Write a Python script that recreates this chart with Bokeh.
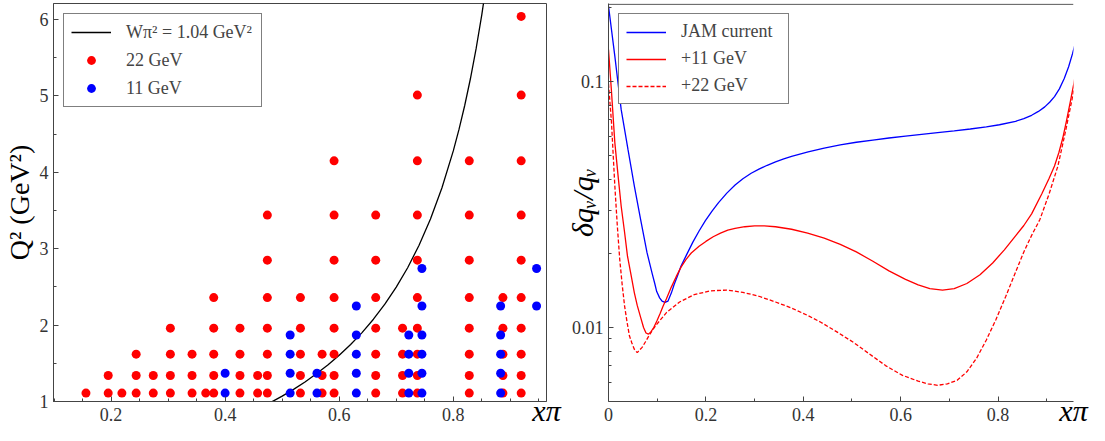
from bokeh.plotting import figure
from bokeh.models import (Range1d, FixedTicker, Legend, LegendItem, Span,
                          CustomJSTickFormatter)
from bokeh.layouts import row
from bokeh.embed import file_html
from bokeh.resources import INLINE

# ---------------- left panel data: kinematic coverage ----------------
red_x = ([0.156] + [0.195] * 2 + [0.219] + [0.244] * 3 + [0.274] * 2 + [0.304] * 4 +
         [0.342] * 3 + [0.366] + [0.380] * 5 + [0.426] * 4 + [0.457] * 2 + [0.474] * 7 +
         [0.532] * 5 + [0.570] * 3 + [0.591] * 8 + [0.664] * 7 + [0.711] * 4 +
         [0.737] * 9 + [0.828] * 8 + [0.887] * 5 + [0.919] * 10)
red_q2 = ([1.11] +
          [1.11, 1.34] +
          [1.11] +
          [1.11, 1.34, 1.62] +
          [1.11, 1.34] +
          [1.11, 1.34, 1.62, 1.96] +
          [1.11, 1.34, 1.62] +
          [1.11] +
          [1.11, 1.34, 1.62, 1.96, 2.36] +
          [1.11, 1.34, 1.62, 1.96] +
          [1.11, 1.34] +
          [1.11, 1.34, 1.62, 1.96, 2.36, 2.85, 3.44] +
          [1.11, 1.34, 1.62, 1.96, 2.36] +
          [1.11, 1.34, 1.62] +
          [1.11, 1.34, 1.62, 1.96, 2.36, 2.85, 3.44, 4.15] +
          [1.11, 1.34, 1.62, 1.96, 2.36, 2.85, 3.44] +
          [1.11, 1.34, 1.62, 1.96] +
          [1.11, 1.34, 1.62, 1.96, 2.36, 2.85, 3.44, 4.15, 5.01] +
          [1.11, 1.34, 1.62, 1.96, 2.36, 2.85, 3.44, 4.15] +
          [1.11, 1.34, 1.62, 1.96, 2.36] +
          [1.11, 1.34, 1.62, 1.96, 2.36, 2.85, 3.44, 4.15, 5.01, 6.04])

blue_x = ([0.400] * 2 + [0.514] * 4 + [0.561] * 2 + [0.630] * 5 + [0.722] * 4 +
          [0.745] * 6 + [0.883] * 5 + [0.946] * 2)
blue_q2 = ([1.11, 1.37] +
           [1.11, 1.37, 1.62, 1.87] +
           [1.11, 1.37] +
           [1.11, 1.37, 1.62, 1.87, 2.25] +
           [1.11, 1.37, 1.62, 1.87] +
           [1.11, 1.37, 1.62, 1.87, 2.25, 2.74] +
           [1.11, 1.37, 1.62, 1.87, 2.25] +
           [2.25, 2.74])

# W^2 = 1.04 GeV^2 boundary
w_x = [0.48, 0.50, 0.52, 0.54, 0.56, 0.58, 0.60, 0.62, 0.64, 0.66, 0.68, 0.70,
       0.72, 0.74, 0.76, 0.78, 0.80, 0.81, 0.82, 0.83, 0.84, 0.85, 0.86]
w_q2 = [0.988, 1.07, 1.159, 1.256, 1.362, 1.478, 1.605, 1.746, 1.902, 2.077, 2.274,
        2.497, 2.751, 3.045, 3.388, 3.794, 4.28, 4.561, 4.874, 5.224, 5.618, 6.063, 6.573]

# ---------------- right panel data: relative uncertainties ----------------
jam_x = [0.0, 0.013, 0.026, 0.040, 0.053, 0.066, 0.079, 0.090, 0.095, 0.099, 0.105,
         0.110, 0.116, 0.122, 0.129, 0.135, 0.141, 0.149, 0.160, 0.173, 0.186, 0.199,
         0.213, 0.226, 0.243, 0.260, 0.276, 0.293, 0.309, 0.326, 0.343, 0.360, 0.376,
         0.410, 0.443, 0.476, 0.509, 0.543, 0.576, 0.610, 0.643, 0.676, 0.710, 0.743,
         0.776, 0.803, 0.836, 0.853, 0.869, 0.883, 0.896, 0.906, 0.916, 0.926, 0.936,
         0.945, 0.953, 0.960, 0.966, 0.972, 0.977]
jam_y = [0.203, 0.127, 0.0771, 0.053, 0.0377, 0.0275, 0.0202, 0.0165, 0.0151, 0.0140,
         0.0132, 0.0128, 0.01265, 0.0128, 0.0138, 0.0150, 0.0161, 0.0178, 0.0197, 0.0222,
         0.0247, 0.0272, 0.0298, 0.0322, 0.0352, 0.0380, 0.0403, 0.0424, 0.0441, 0.0457,
         0.0472, 0.0485, 0.0497, 0.0518, 0.0537, 0.0553, 0.0567, 0.0579, 0.0590, 0.0601,
         0.0611, 0.0621, 0.0631, 0.0642, 0.0655, 0.0668, 0.0690, 0.0708, 0.0730, 0.0757,
         0.0790, 0.0825, 0.0870, 0.0935, 0.103, 0.115, 0.130, 0.147, 0.166, 0.187, 0.208]

p11_x = [0.0, 0.006, 0.013, 0.020, 0.026, 0.033, 0.039, 0.046, 0.053, 0.059, 0.066,
         0.072, 0.077, 0.082, 0.087, 0.093, 0.100, 0.106, 0.112, 0.119, 0.129, 0.139,
         0.149, 0.159, 0.170, 0.186, 0.200, 0.215, 0.230, 0.245, 0.260, 0.280, 0.300,
         0.320, 0.343, 0.376, 0.409, 0.443, 0.476, 0.509, 0.543, 0.576, 0.610, 0.636,
         0.660, 0.686, 0.710, 0.736, 0.763, 0.789, 0.813, 0.836, 0.853, 0.869, 0.890,
         0.905, 0.916, 0.925, 0.933, 0.941, 0.949, 0.956, 0.962, 0.967, 0.973, 0.980,
         0.986]
p11_y = [0.135, 0.092, 0.0565, 0.0408, 0.0312, 0.0244, 0.0195, 0.0165, 0.01387, 0.0123,
         0.0110, 0.0100, 0.0095, 0.0094, 0.0096, 0.0100, 0.0107, 0.0114, 0.0122, 0.0131,
         0.0146, 0.0161, 0.0176, 0.0189, 0.0201, 0.0214, 0.0224, 0.0234, 0.0242, 0.0249,
         0.0253, 0.0257, 0.0259, 0.0259, 0.0257, 0.0251, 0.0242, 0.0231, 0.0218, 0.0203,
         0.0186, 0.0170, 0.0157, 0.0149, 0.0144, 0.0142, 0.0144, 0.0151, 0.0164, 0.0183,
         0.0207, 0.0236, 0.0260, 0.0290, 0.0350, 0.0405, 0.0454, 0.0515, 0.0590, 0.0700,
         0.0840, 0.0990, 0.116, 0.134, 0.158, 0.184, 0.210]

p22_x = [0.0, 0.006, 0.013, 0.018, 0.023, 0.028, 0.033, 0.038, 0.043, 0.048, 0.053,
         0.059, 0.064, 0.069, 0.076, 0.083, 0.091, 0.099, 0.119, 0.146, 0.176, 0.209,
         0.243, 0.276, 0.309, 0.343, 0.376, 0.409, 0.436, 0.469, 0.503, 0.536, 0.569,
         0.603, 0.636, 0.656, 0.676, 0.696, 0.716, 0.736, 0.756, 0.776, 0.796, 0.816,
         0.836, 0.853, 0.869, 0.886, 0.905, 0.923, 0.938, 0.952, 0.960, 0.967, 0.974,
         0.980, 0.986]
p22_y = [0.098, 0.069, 0.0377, 0.0261, 0.0190, 0.0150, 0.01225, 0.01055, 0.00925,
         0.00865, 0.00816, 0.0079, 0.0081, 0.0083, 0.00875, 0.00925, 0.0098, 0.0103,
         0.0115, 0.0127, 0.0136, 0.0141, 0.0142, 0.0139, 0.0134, 0.0127, 0.0120, 0.0112,
         0.0105, 0.0096, 0.0087, 0.0078, 0.0070, 0.0064, 0.00605, 0.0059, 0.00582,
         0.0059, 0.0061, 0.0066, 0.0075, 0.0089, 0.0108, 0.0134, 0.0168, 0.0203,
         0.0237, 0.0275, 0.0350, 0.0454, 0.0620, 0.0847, 0.105, 0.130, 0.159, 0.180, 0.210]

left_xticks = [0.2, 0.4, 0.6, 0.8]
left_yticks = [1, 2, 3, 4, 5, 6]
right_xticks = [0.0, 0.2, 0.4, 0.6, 0.8]
right_yticks = [0.01, 0.1]

SERIF = "Liberation Serif"
AX = "#444444"
TXT = "#333333"
FIG_H = 432


def style_axes(p):
    for ax in (p.xaxis[0], p.yaxis[0]):
        ax.axis_line_color = AX
        ax.axis_line_width = 1
        ax.major_tick_line_color = AX
        ax.minor_tick_line_color = AX
        ax.major_tick_in = 5
        ax.major_tick_out = 0
        ax.minor_tick_in = 3
        ax.minor_tick_out = 0
        ax.major_label_text_font = SERIF
        ax.major_label_text_font_size = "18px"
        ax.major_label_text_color = TXT
        ax.major_label_standoff = 6
        ax.axis_label_text_font = SERIF
        ax.axis_label_text_color = "black"
    p.xgrid.grid_line_color = None
    p.ygrid.grid_line_color = None


def x_label(ax):
    ax.axis_label = "xπ"
    ax.axis_label_text_font_size = "30px"
    ax.axis_label_text_font_style = "italic"
    ax.axis_label_standoff = -30
    ax.axis_label_align = "end"
    ax.axis_label_text_align = "right"


# ---------------- left figure ----------------
p1 = figure(width=562, height=FIG_H, x_range=Range1d(0.0991, 0.9634),
            y_range=Range1d(1.0, 6.209),
            output_backend="svg", toolbar_location=None,
            min_border_left=49, min_border_right=16, min_border_top=3, min_border_bottom=31)
p1.outline_line_color = AX
style_axes(p1)
p1.xaxis.ticker = FixedTicker(ticks=left_xticks,
                              minor_ticks=[round(0.1 + 0.05 * i, 2) for i in range(18)])
p1.yaxis.ticker = FixedTicker(ticks=left_yticks, minor_ticks=[1.5, 2.5, 3.5, 4.5, 5.5])
p1.yaxis.major_label_standoff = 5
p1.yaxis.axis_label = "Q² (GeV²)"
p1.yaxis.axis_label_text_font_size = "28px"
p1.yaxis.axis_label_text_font_style = "normal"
p1.yaxis.axis_label_standoff = 2
x_label(p1.xaxis[0])

wline = p1.line(w_x, w_q2, line_color="black", line_width=1.3)
rs = p1.scatter(red_x, red_q2, size=9, fill_color="#ff0000", line_color=None)
bs = p1.scatter(blue_x, blue_q2, size=9, fill_color="#0000ff", line_color=None)

leg1 = Legend(items=[LegendItem(label="Wπ² = 1.04 GeV²", renderers=[wline]),
                     LegendItem(label="22 GeV", renderers=[rs]),
                     LegendItem(label="11 GeV", renderers=[bs])],
              location="top_left", margin=10, padding=7, spacing=6,
              glyph_width=40, glyph_height=22, label_height=22, label_width=128,
              label_standoff=15, border_line_color="black", border_line_width=1,
              label_text_font=SERIF, label_text_font_size="18px",
              label_text_baseline="middle", background_fill_alpha=1.0)
p1.add_layout(leg1)

# ---------------- right figure ----------------
p2 = figure(width=527, height=FIG_H, x_range=Range1d(0.0, 0.955), y_range=Range1d(0.005, 0.208),
            y_axis_type="log", output_backend="svg", toolbar_location=None,
            min_border_left=42, min_border_right=16, min_border_top=3, min_border_bottom=31)
p2.outline_line_color = None
style_axes(p2)
p2.xaxis.ticker = FixedTicker(ticks=right_xticks, minor_ticks=[0.1, 0.3, 0.5, 0.7, 0.9])
p2.yaxis.ticker = FixedTicker(ticks=right_yticks,
                              minor_ticks=[0.006, 0.007, 0.008, 0.009, 0.02, 0.03, 0.04,
                                           0.05, 0.06, 0.07, 0.08, 0.09, 0.2])
p2.yaxis.formatter = CustomJSTickFormatter(code="return tick.toString();")
p2.yaxis.major_label_standoff = 5
p2.yaxis.axis_label = "δqᵥ/qᵥ"
p2.yaxis.axis_label_text_font_size = "30px"
p2.yaxis.axis_label_text_font_style = "italic"
p2.yaxis.axis_label_standoff = -30
x_label(p2.xaxis[0])
p2.add_layout(Span(location=0.2065, dimension="width", line_color=AX, line_width=1))

l_jam = p2.line(jam_x, jam_y, line_color="#0000ff", line_width=1.3)
l_11 = p2.line(p11_x, p11_y, line_color="#ff0000", line_width=1.3)
l_22 = p2.line(p22_x, p22_y, line_color="#ff0000", line_width=1.3, line_dash="4 2")

leg2 = Legend(items=[LegendItem(label="JAM current", renderers=[l_jam]),
                     LegendItem(label="+11 GeV", renderers=[l_11]),
                     LegendItem(label="+22 GeV", renderers=[l_22])],
              location="top_left", margin=10, padding=7, spacing=6,
              glyph_width=40, glyph_height=20, label_height=20, label_width=100,
              label_standoff=15, border_line_color="black", border_line_width=1,
              label_text_font=SERIF, label_text_font_size="18px",
              label_text_baseline="middle", background_fill_alpha=1.0)
p2.add_layout(leg2)

layout = row(p1, p2)
with open("out.html", "w") as f:
    f.write(file_html(layout, INLINE))
